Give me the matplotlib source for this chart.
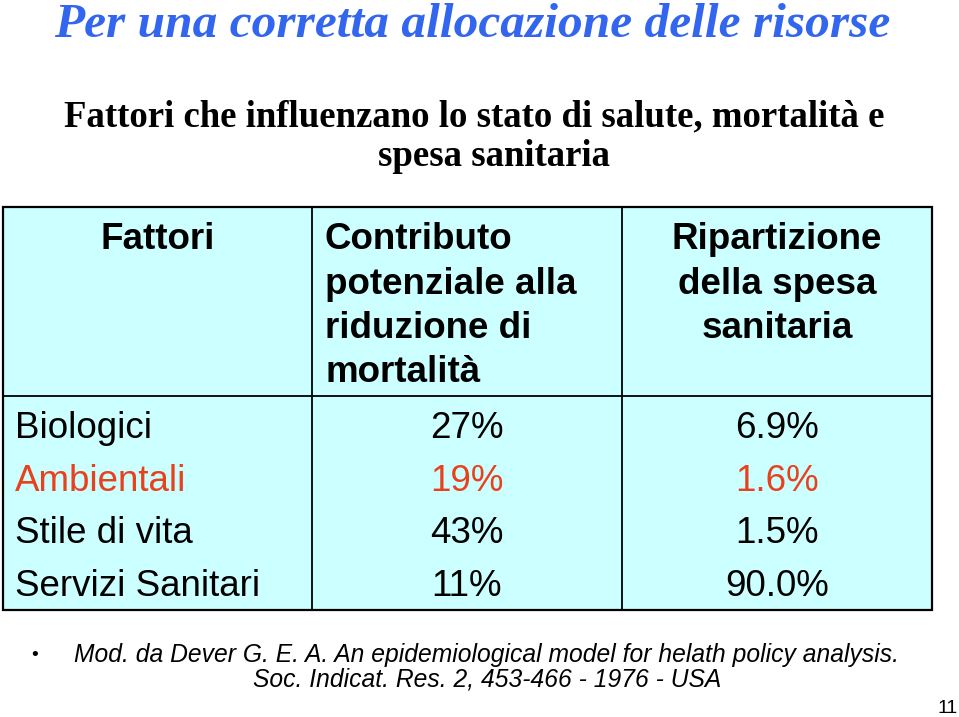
import matplotlib.pyplot as plt
from matplotlib.patches import Rectangle

# dati della tabella
fattori = ["Biologici", "Ambientali", "Stile di vita", "Servizi Sanitari"]
mortalita = ["27%", "19%", "43%", "11%"]
spesa = ["6.9%", "1.6%", "1.5%", "90.0%"]
colori_righe = ["black", "#E8411E", "black", "black"]
intestazioni = [["Fattori"],
                ["Contributo", "potenziale alla", "riduzione di", "mortalità"],
                ["Ripartizione", "della spesa", "sanitaria"]]

titolo = "Per una corretta allocazione delle risorse"
sottotitolo = ["Fattori che influenzano lo stato di salute, mortalità e",
               "spesa sanitaria"]
nota1 = "Mod. da Dever G. E. A. An epidemiological model for helath policy analysis."
nota2 = "Soc. Indicat. Res. 2, 453-466 - 1976 - USA"
pagina = "11"

fig = plt.figure(figsize=(9.59, 7.17), dpi=100)
ax = fig.add_axes([0, 0, 1, 1])
ax.set_xlim(0, 959)
ax.set_ylim(717, 0)
ax.axis("off")

serif = "Liberation Serif"
sans = "Liberation Sans"

# titolo e sottotitolo
ax.text(472, 37, titolo, family=serif, style="italic", weight="bold",
        fontsize=35.6, color="#3366EE", ha="center", va="baseline")
for k, (riga, xs) in enumerate(zip(sottotitolo, [474, 494])):
    ax.text(xs, 126 + k * 40, riga, family=serif, weight="bold",
            fontsize=26.5, ha="center", va="baseline")

# tabella
x0, x1, x2, x3 = 3, 312, 622, 932
y_top, y_head, y_bot = 207, 396, 610
ax.add_patch(Rectangle((x0, y_top), x3 - x0, y_bot - y_top,
                       facecolor="#CCFFFF", edgecolor="black", lw=1.6))
ax.plot([x1, x1], [y_top, y_bot], color="black", lw=1.3)
ax.plot([x2, x2], [y_top, y_bot], color="black", lw=1.3)
ax.plot([x0, x3], [y_head, y_head], color="black", lw=1.3)

fs = 26.5
pos_int = [((x0 + x1) / 2, "center"), (325, "left"), ((x2 + x3) / 2, "center")]
for (xh, allin), righe in zip(pos_int, intestazioni):
    for k, riga in enumerate(righe):
        ax.text(xh, 249 + k * 44.5, riga, family=sans, weight="bold",
                fontsize=fs, ha=allin, va="baseline")

for i, (f, m, s, c) in enumerate(zip(fattori, mortalita, spesa, colori_righe)):
    y = 438 + i * 52.7
    ax.text(15, y, f, family=sans, fontsize=fs, color=c, ha="left", va="baseline")
    ax.text((x1 + x2) / 2, y, m, family=sans, fontsize=fs, color=c,
            ha="center", va="baseline")
    ax.text((x2 + x3) / 2, y, s, family=sans, fontsize=fs, color=c,
            ha="center", va="baseline")

# nota bibliografica
ax.text(35, 655, "•", family=sans, fontsize=14, ha="center", va="center")
ax.text(486, 662, nota1, family=sans, style="italic", fontsize=17.7,
        ha="center", va="baseline")
ax.text(487, 687, nota2, family=sans, style="italic", fontsize=17.7,
        ha="center", va="baseline")
ax.text(948, 713, pagina, family=sans, fontsize=14, ha="center", va="baseline")

fig.savefig("out.png", dpi=100)
